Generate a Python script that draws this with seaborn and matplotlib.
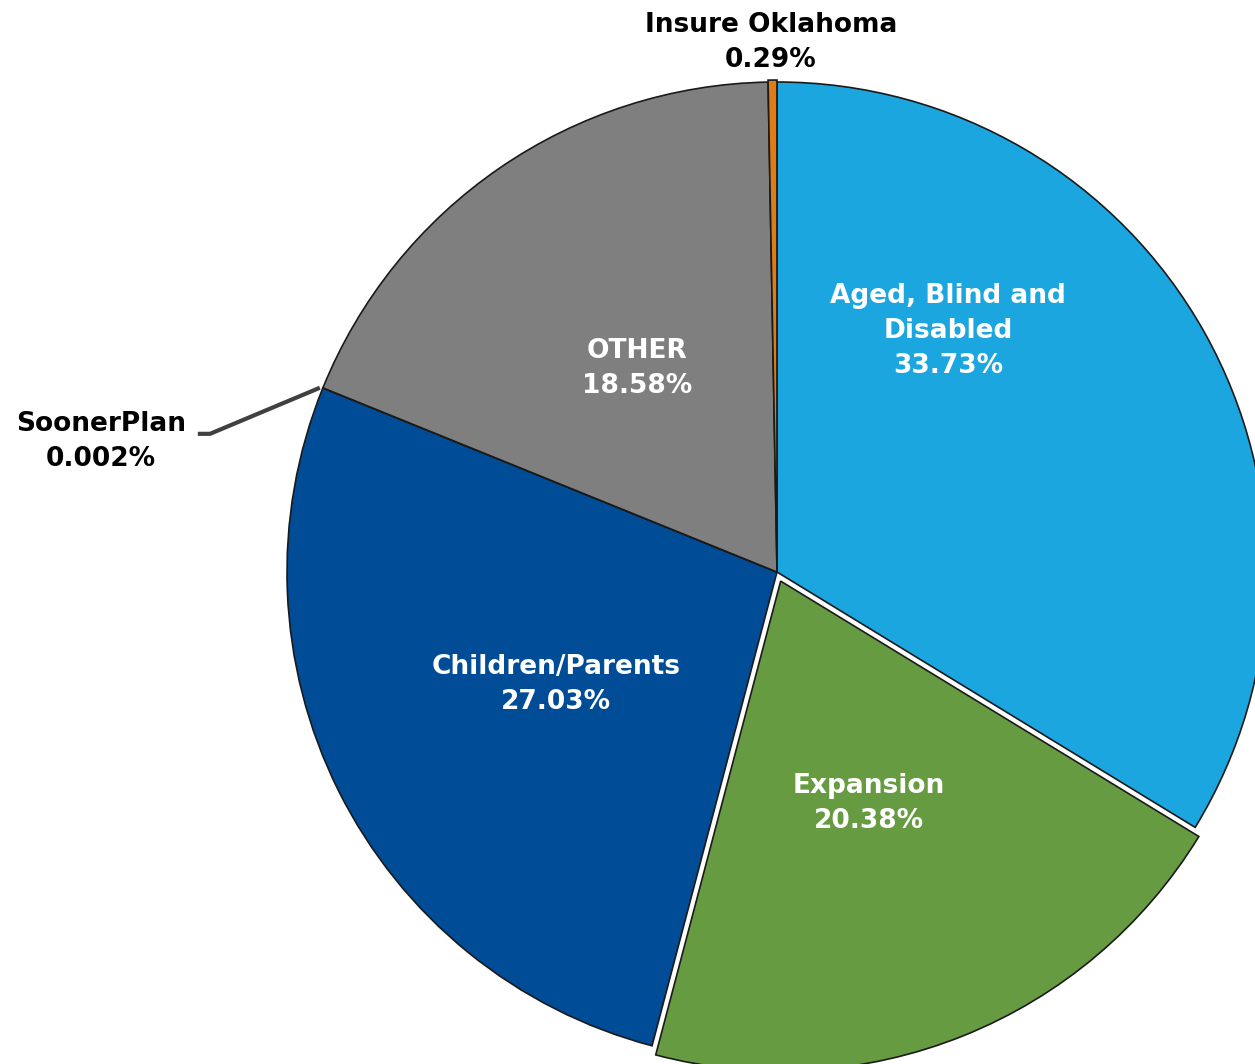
import matplotlib.pyplot as plt
import seaborn as sns

sns.set_theme(style="white")
plt.rcParams['font.family'] = ['DejaVu Sans']

# slices, clockwise from the top
categories = ['Aged, Blind and\nDisabled', 'Expansion', 'Children/Parents',
              'SoonerPlan', 'OTHER', 'Insure Oklahoma']
shares = [33.73, 20.38, 27.03, 0.002, 18.58, 0.29]
pct_labels = ['33.73%', '20.38%', '27.03%', '0.002%', '18.58%', '0.29%']
colors = ['#1ca6df', '#669b41', '#004c97', '#a6a6a6', '#7f7f7f', '#e07b16']
explode = [0, 0.02, 0, 0, 0, 0.004]

# label placement (data coords) and text colour
label_pos = [(0.349, 0.492), (0.188, -0.473), (-0.451, -0.229),
             (-1.380, 0.266), (-0.286, 0.416), (-0.012, 1.080)]
label_col = ['white', 'white', 'white', 'black', 'white', 'black']

fig = plt.figure(figsize=(12.55, 10.64), dpi=100)
ax = fig.add_axes([287 / 1255, 2 / 1064, 980 / 1255, 980 / 1064])

wedges, _ = ax.pie(shares, colors=colors, startangle=90, counterclock=False,
                   explode=explode, radius=1,
                   wedgeprops=dict(edgecolor='#1a1a1a', linewidth=1.2))
ax.set_xlim(-1, 1)
ax.set_ylim(-1, 1)
ax.set_aspect('auto')

for name, pct, (x, y), c in zip(categories, pct_labels, label_pos, label_col):
    ax.text(x, y, f'{name}\n{pct}', ha='center', va='center', color=c,
            fontsize=19, fontweight='bold', linespacing=1.45, clip_on=False)

# leader line for the tiny SoonerPlan slice
ax.plot([-0.933, -1.157, -1.182], [0.376, 0.282, 0.282], color='#404040',
        lw=3, clip_on=False, solid_capstyle='butt')

plt.savefig('out.png', dpi=100)
plt.close()
